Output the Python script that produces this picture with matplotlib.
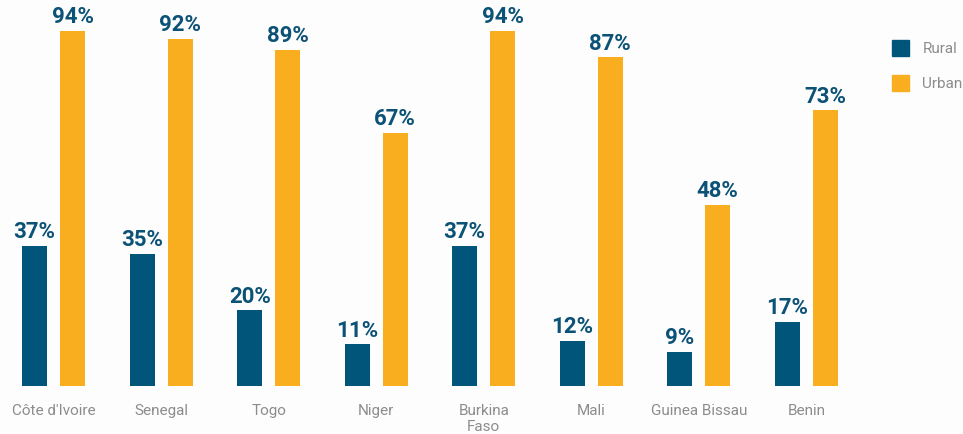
import matplotlib
matplotlib.use("Agg")
import matplotlib.pyplot as plt
from matplotlib.patches import Patch
import numpy as np

countries = ["Côte d'Ivoire", "Senegal", "Togo", "Niger", "Burkina\nFaso",
             "Mali", "Guinea Bissau", "Benin"]
rural = [37, 35, 20, 11, 37, 12, 9, 17]
urban = [94, 92, 89, 67, 94, 87, 48, 73]
series_names = ["Rural", "Urban"]

RURAL_COLOR = "#02557a"
URBAN_COLOR = "#f9ae1f"
LABEL_COLOR = "#0b5276"
TEXT_GRAY = "#8c8c8c"
BG = "#fdfdfd"

W, H = 963, 434
fig = plt.figure(figsize=(W / 100, H / 100), dpi=100, facecolor=BG)
ax = fig.add_axes([0, 48 / H, 860 / W, 377.7 / H], facecolor=BG)

x = np.arange(len(countries))
bw = 0.233
off = 0.177
b1 = ax.bar(x - off, rural, width=bw, color=RURAL_COLOR)
b2 = ax.bar(x + off, urban, width=bw, color=URBAN_COLOR)

for bars, vals in ((b1, rural), (b2, urban)):
    for rect, v in zip(bars, vals):
        ax.annotate(f"{v}%", (rect.get_x() + rect.get_width() / 2, v),
                    xytext=(0, 2), textcoords="offset points",
                    ha="center", va="bottom", fontsize=16,
                    fontweight="bold", color=LABEL_COLOR, family="Roboto")

ax.set_xlim(-0.5, 7.5)
ax.set_ylim(0, 100)
ax.set_xticks(x)
ax.set_xticklabels(countries, fontsize=11, color=TEXT_GRAY, family="Roboto",
                   linespacing=1.15, va="top")
ax.tick_params(axis="x", length=0, pad=13)
ax.set_yticks([])
for s in ax.spines.values():
    s.set_visible(False)

handles = [Patch(color=RURAL_COLOR), Patch(color=URBAN_COLOR)]
leg = fig.legend(handles, series_names, loc="upper left",
                 bbox_to_anchor=(878 / W, 1 - 26 / H), frameon=False,
                 handlelength=1.1, handleheight=1.25, handletextpad=0.9,
                 labelspacing=1.25, prop={"family": "Roboto", "size": 11})
for t in leg.get_texts():
    t.set_color(TEXT_GRAY)

fig.savefig("out.png", dpi=100, facecolor=BG)
